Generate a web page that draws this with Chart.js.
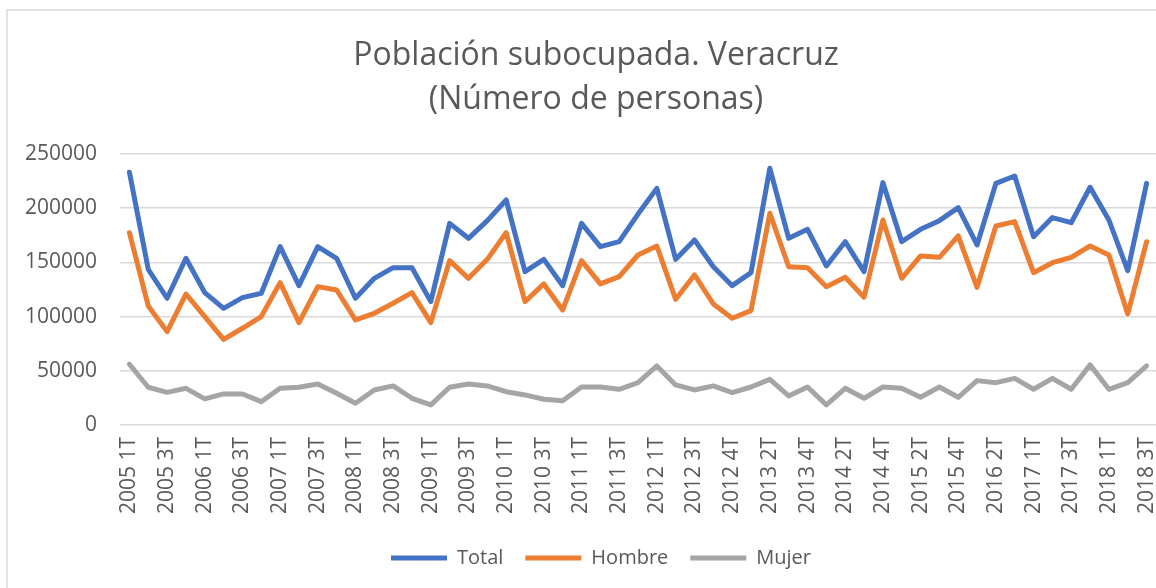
<!DOCTYPE html>
<html>
<head>
<meta charset="utf-8">
<script src="https://cdn.jsdelivr.net/npm/chart.js@4"></script>
<style>
  html, body { margin: 0; padding: 0; background: #ffffff; }
  #wrap { width: 1156px; height: 588px; }
</style>
</head>
<body>
<div id="wrap"><canvas id="c" width="1156" height="588"></canvas></div>
<script>
const categories = [
  "2005 1T","2005 2T","2005 3T","2005 4T",
  "2006 1T","2006 2T","2006 3T","2006 4T",
  "2007 1T","2007 2T","2007 3T","2007 4T",
  "2008 1T","2008 2T","2008 3T","2008 4T",
  "2009 1T","2009 2T","2009 3T","2009 4T",
  "2010 1T","2010 2T","2010 3T","2010 4T",
  "2011 1T","2011 2T","2011 3T","2011 4T",
  "2012 1T","2012 2T","2012 3T","2012 3T",
  "2012 4T","2013 1T","2013 2T","2013 3T",
  "2013 4T","2014 1T","2014 2T","2014 3T",
  "2014 4T","2015 1T","2015 2T","2015 3T",
  "2015 4T","2016 1T","2016 2T","2016 4T",
  "2017 1T","2017 2T","2017 3T","2017 4T",
  "2018 1T","2018 2T","2018 3T"
];

const total = [
  233100,143600,116900,153800,122100,107600,117500,121500,164500,128500,
  164500,153800,116900,135300,145100,145100,113800,186000,172200,188500,
  207600,141400,152800,128500,186000,164500,169100,194600,218300,152800,
  170700,146000,128500,140500,236800,172200,180500,146700,169100,141400,
  223600,169100,180500,188500,200500,166100,222900,229700,173700,191300,
  186600,219300,189100,142300,222900
];

const hombre = [
  177400,109800,86100,120800,99900,79000,89200,100000,131300,94400,
  127600,124500,96900,103000,112300,122100,94400,151600,135300,152800,
  177400,113800,130100,106100,151600,130100,136800,156800,165100,115900,
  138400,111600,98400,105500,195300,146000,145100,127600,136200,117800,
  189100,135300,155900,154700,174400,127000,183600,187600,140500,149700,
  154700,165100,156800,102400,169100
];

const mujer = [
  56000,34800,30100,33800,24000,28600,28600,21500,33800,34800,
  37800,29200,20000,32300,36000,24600,18500,34800,37800,36000,
  30700,27700,23700,22400,35000,35000,32900,39000,54400,36900,
  32300,36000,29800,35000,42100,26800,35000,18500,33800,24600,
  35000,33800,25500,35000,25500,40900,39000,43000,32900,43000,
  32900,55400,32900,39000,54400
];

const yTicks = [0, 50000, 100000, 150000, 200000, 250000];
const titleLines = ["Población subocupada. Veracruz", "(Número de personas)"];

const FONT = "'Open Sans', 'DejaVu Sans', sans-serif";
const TXT = "#595959";
const GRID = "#d9d9d9";

const frame = {
  id: 'frame',
  beforeDraw(chart) {
    const ctx = chart.ctx;
    ctx.save();
    ctx.fillStyle = '#ffffff';
    ctx.fillRect(0, 0, chart.width, chart.height);
    ctx.strokeStyle = GRID;
    ctx.lineWidth = 1.5;
    ctx.strokeRect(7, 10, chart.width + 20, chart.height + 20);
    ctx.restore();
  }
};

// centre title and legend a little right of the canvas centre, as in the reference
function shiftBox(box, wantCentre) {
  if (!box) return;
  const d = wantCentre - (box.left + box.right) / 2;
  box.left += d;
  box.right += d;
}
const boxShift = {
  id: 'boxShift',
  afterLayout(chart) {
    const ca = chart.chartArea;
    if (!ca) return;
    const mid = (ca.left + ca.right) / 2;
    shiftBox(chart.legend, mid - 37);
    shiftBox(chart.titleBlock, mid - 42);
  }
};

function ds(label, data, color) {
  return {
    label: label,
    data: data,
    borderColor: color,
    backgroundColor: color,
    borderWidth: 5,
    borderCapStyle: 'round',
    borderJoinStyle: 'round',
    pointRadius: 0,
    pointHoverRadius: 0,
    tension: 0,
    fill: false
  };
}

new Chart(document.getElementById('c'), {
  type: 'line',
  data: {
    labels: categories,
    datasets: [
      ds('Total', total, '#4472C4'),
      ds('Hombre', hombre, '#ED7D31'),
      ds('Mujer', mujer, '#A5A5A5')
    ]
  },
  plugins: [frame, boxShift],
  options: {
    responsive: false,
    animation: false,
    events: [],
    layout: { padding: { left: 0, right: 0, top: 0, bottom: 10 } },
    plugins: {
      title: {
        display: true,
        text: titleLines,
        color: TXT,
        font: { family: FONT, size: 32, weight: 'normal', lineHeight: 1.375 },
        padding: { top: 34, bottom: 32 }
      },
      legend: {
        display: true,
        position: 'bottom',
        labels: {
          color: TXT,
          font: { family: FONT, size: 20 },
          usePointStyle: true,
          pointStyle: 'line',
          pointStyleWidth: 56,
          padding: 22
        }
      },
      tooltip: { enabled: false }
    },
    scales: {
      x: {
        offset: true,
        afterFit: function(scale) { scale.paddingLeft = 0; scale.paddingRight = 0; },
        grid: { display: false, drawTicks: false },
        border: { display: false },
        ticks: {
          autoSkip: false,
          maxRotation: 90,
          minRotation: 90,
          padding: 12,
          color: TXT,
          font: { family: FONT, size: 21 },
          callback: function(value, index) {
            return index % 2 === 0 ? categories[index] : '';
          }
        }
      },
      y: {
        min: yTicks[0],
        max: yTicks[yTicks.length - 1],
        afterFit: function(scale) { scale.width = 120; },
        afterBuildTicks: function(scale) {
          scale.ticks = yTicks.map(v => ({ value: v }));
        },
        grid: { color: GRID, lineWidth: 1.5, drawTicks: false },
        border: { display: false },
        ticks: {
          padding: 23,
          color: TXT,
          font: { family: FONT, size: 21 },
          callback: function(value) { return String(value); }
        }
      }
    }
  }
});
</script>
</body>
</html>
